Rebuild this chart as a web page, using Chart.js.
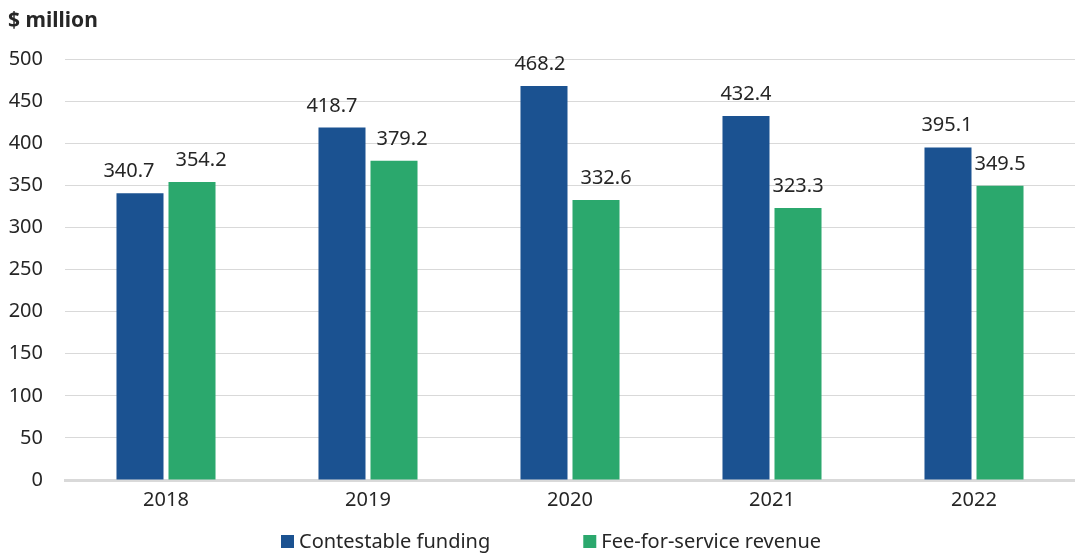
<!DOCTYPE html>
<html>
<head>
<meta charset="utf-8">
<title>Funding and revenue</title>
<script src="https://cdn.jsdelivr.net/npm/chart.js@4/dist/chart.umd.min.js"></script>
<style>
  body { margin: 0; background: #ffffff; }
  #wrap { width: 1075px; height: 553px; }
</style>
</head>
<body>
<div id="wrap"><canvas id="chart" width="1075" height="553"></canvas></div>
<script>
var years = ['2018', '2019', '2020', '2021', '2022'];
var contestable = [340.7, 418.7, 468.2, 432.4, 395.1];
var feeForService = [354.2, 379.2, 332.6, 323.3, 349.5];
var seriesNames = ['Contestable funding', 'Fee-for-service revenue'];

var textColor = '#262626';
var fontFamily = '"Noto Sans", "Open Sans", sans-serif';

// small sideways nudges so neighbouring value labels don't touch [blue, green]
var labelNudgeX = [[-11, 9], [-10, 8], [-4, 10], [0, 0], [-1, 0]];

// Value labels above each bar
var barValueLabels = {
    id: 'barValueLabels',
    afterDatasetsDraw: function (chart) {
        var ctx = chart.ctx;
        ctx.save();
        ctx.font = '20px ' + fontFamily;
        ctx.fillStyle = textColor;
        ctx.textAlign = 'center';
        ctx.textBaseline = 'alphabetic';
        chart.data.datasets.forEach(function (ds, i) {
            chart.getDatasetMeta(i).data.forEach(function (bar, j) {
                ctx.fillText(ds.data[j].toFixed(1), bar.x + labelNudgeX[j][i], bar.y - 16);
            });
        });
        ctx.restore();
    }
};

// Legend along the bottom, drawn by hand to get the wide gap between entries
var bottomLegend = {
    id: 'bottomLegend',
    afterDraw: function (chart) {
        var ctx = chart.ctx;
        var box = 13, textGap = 5, itemGap = 93, midX = 551, midY = 541;
        ctx.save();
        ctx.font = '20px ' + fontFamily;
        var items = chart.data.datasets.map(function (ds) {
            return { text: ds.label, color: ds.backgroundColor, w: ctx.measureText(ds.label).width };
        });
        var total = 0;
        items.forEach(function (it, i) {
            total += box + textGap + it.w + (i > 0 ? itemGap : 0);
        });
        var x = Math.round(midX - total / 2);
        ctx.textBaseline = 'middle';
        ctx.textAlign = 'left';
        items.forEach(function (it) {
            ctx.fillStyle = it.color;
            ctx.fillRect(x, midY - 6, box, box);
            ctx.fillStyle = textColor;
            ctx.fillText(it.text, x + box + textGap, midY + 1);
            x += box + textGap + it.w + itemGap;
        });
        ctx.restore();
    }
};

new Chart(document.getElementById('chart').getContext('2d'), {
    type: 'bar',
    data: {
        labels: years,
        datasets: [{
            label: seriesNames[0],
            data: contestable,
            backgroundColor: '#1b5291'
        }, {
            label: seriesNames[1],
            data: feeForService,
            backgroundColor: '#2ba86d'
        }]
    },
    options: {
        responsive: false,
        animation: false,
        layout: { padding: { left: 8, right: 0, top: 6, bottom: 41 } },
        datasets: {
            bar: { categoryPercentage: 0.515, barPercentage: 0.904 }
        },
        scales: {
            x: {
                grid: { display: false },
                border: { display: true, color: '#d9d9d9', width: 3 },
                ticks: { color: textColor, font: { family: fontFamily, size: 20 }, padding: 0 }
            },
            y: {
                min: 0,
                max: 500,
                ticks: {
                    stepSize: 50,
                    color: textColor,
                    font: { family: fontFamily, size: 20 },
                    padding: 22
                },
                grid: { color: '#d9d9d9', lineWidth: 1, drawTicks: false },
                border: { display: false },
                afterFit: function (scale) { scale.width = 57; }
            }
        },
        plugins: {
            title: {
                display: true,
                text: '$ million',
                align: 'start',
                color: textColor,
                font: { family: fontFamily, size: 21, weight: 'bold' },
                padding: { top: 2, bottom: 26 }
            },
            legend: { display: false },
            tooltip: { enabled: false }
        }
    },
    plugins: [barValueLabels, bottomLegend]
});
</script>
</body>
</html>
